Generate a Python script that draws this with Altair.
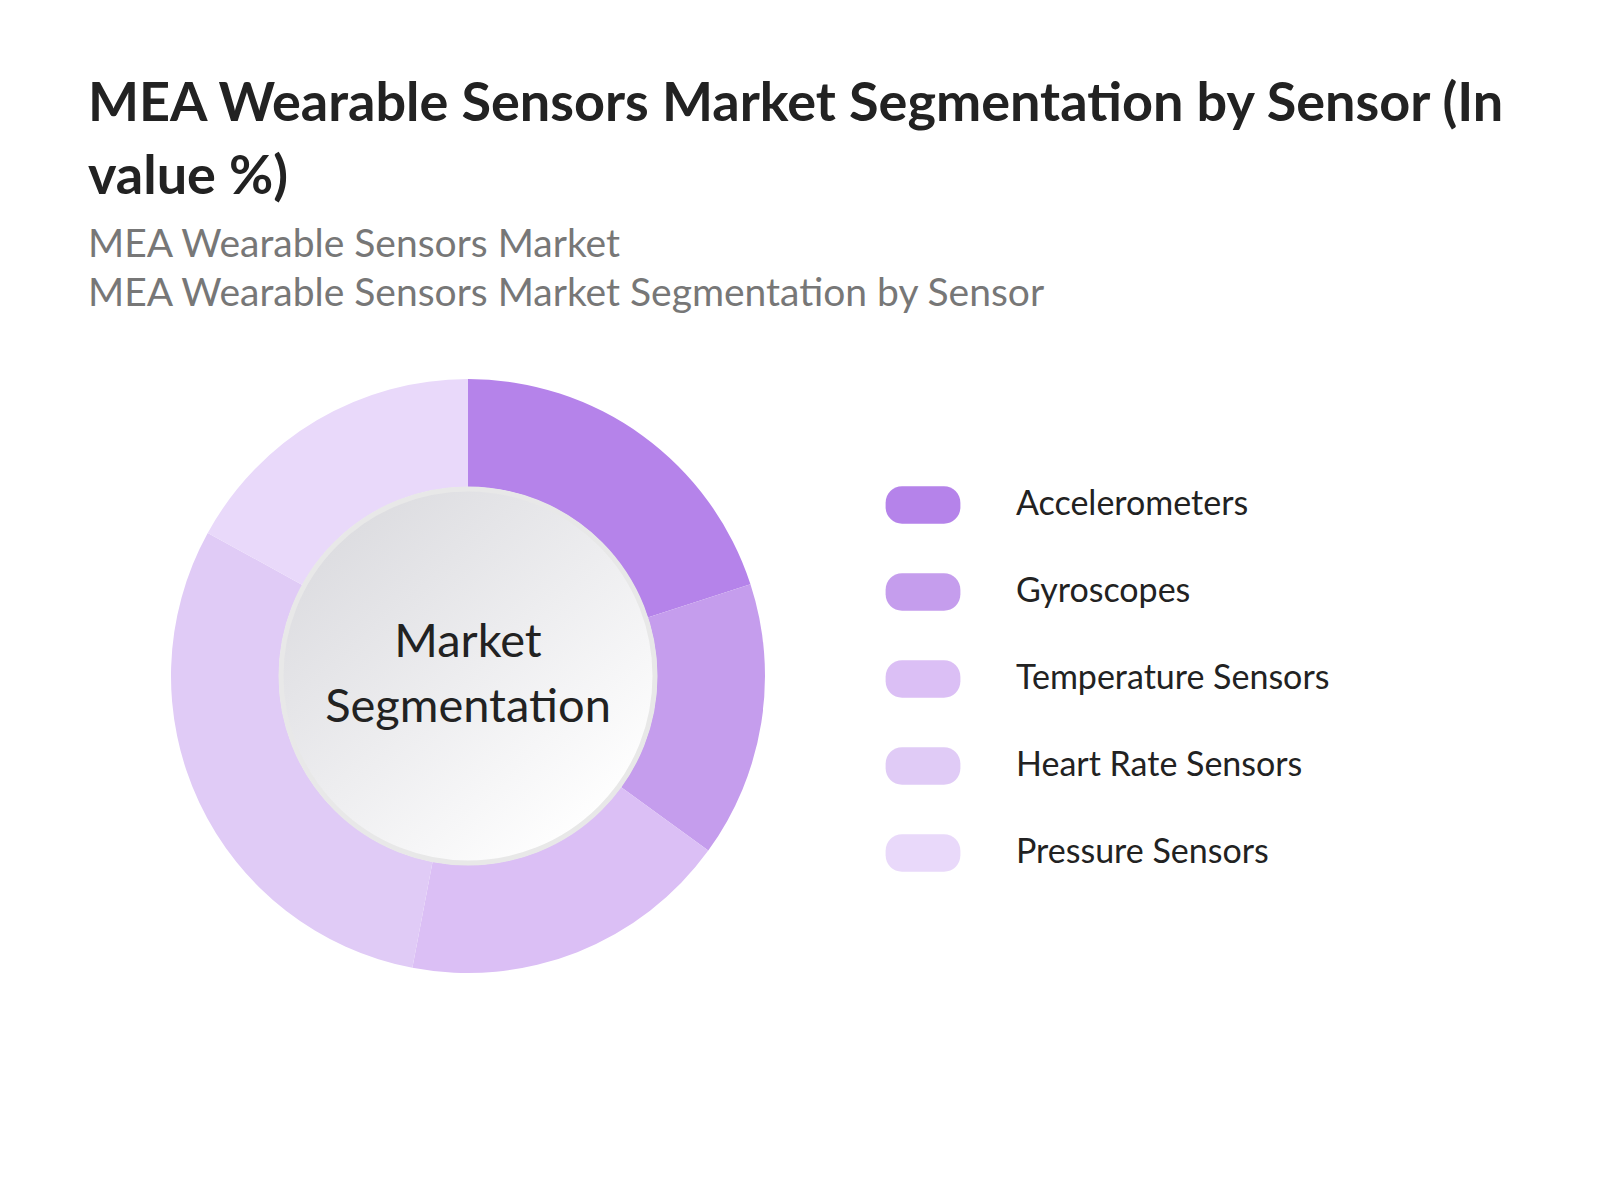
import altair as alt
import pandas as pd

sensors = ["Accelerometers", "Gyroscopes", "Temperature Sensors", "Heart Rate Sensors", "Pressure Sensors"]
shares = [20, 15, 18, 30, 17]
colors = ["#b583ea", "#c59ded", "#dbbff5", "#e0cbf6", "#e9d9fa"]
center_label = ["Market", "Segmentation"]

title_lines = ["MEA Wearable Sensors Market Segmentation by Sensor (In", "value %)"]
subtitle_lines = ["MEA Wearable Sensors Market", "MEA Wearable Sensors Market Segmentation by Sensor"]

df = pd.DataFrame({"sensor": sensors, "share": shares, "idx": list(range(len(sensors)))})

CX, CY = 380, 348

pill = ("M-0.42,-0.375 H0.42 C0.602,-0.375 0.75,-0.227 0.75,-0.045 V0.045 "
        "C0.75,0.227 0.602,0.375 0.42,0.375 H-0.42 C-0.602,0.375 -0.75,0.227 -0.75,0.045 "
        "V-0.045 C-0.75,-0.227 -0.602,-0.375 -0.42,-0.375 Z")

donut = alt.Chart(df).mark_arc(innerRadius=189, outerRadius=297).encode(
    theta=alt.Theta("share:Q", stack=True),
    order=alt.Order("idx:Q"),
    color=alt.Color(
        "sensor:N",
        scale=alt.Scale(domain=sensors, range=colors),
        legend=alt.Legend(
            orient="none", legendX=785, legendY=127, title=None,
            symbolType=pill, symbolSize=9940, symbolStrokeWidth=0, symbolOpacity=1,
            labelFont="Lato", labelFontSize=34, labelColor="#222222",
            labelOffset=43, rowPadding=18, padding=0, labelLimit=600,
        ),
    ),
    x=alt.value(CX), y=alt.value(CY),
)

center_df = pd.DataFrame({"k": [0]})
inner = alt.Chart(center_df).mark_arc(
    theta=0, theta2=6.2832, outerRadius=187, innerRadius=0,
    stroke="#e8e8e8", strokeWidth=5,
    fill=alt.Gradient(
        gradient="linear",
        stops=[alt.GradientStop(color="#dcdce0", offset=0), alt.GradientStop(color="#ffffff", offset=1)],
        x1=0.15, y1=0.1, x2=0.85, y2=0.9,
    ),
).encode(x=alt.value(CX), y=alt.value(CY))

label = alt.Chart(pd.DataFrame({"t": [center_label]})).mark_text(
    font="Lato", fontSize=47, color="#222222", lineHeight=65, baseline="middle", align="center"
).encode(text="t", x=alt.value(CX), y=alt.value(CY - 33))

chart = alt.layer(donut, inner, label).properties(
    width=1500, height=800,
    padding={"left": 80, "top": 320, "right": 0, "bottom": 0},
    autosize=alt.AutoSizeParams(type="none"),
    background="white",
    title=alt.TitleParams(
        text=title_lines, subtitle=subtitle_lines, anchor="start", frame="group",
        font="Lato", fontSize=54, fontWeight="bold", color="#222222", lineHeight=73,
        subtitleFont="Lato", subtitleFontSize=39, subtitleColor="#777777", subtitleLineHeight=49,
        subtitlePadding=21, offset=14,
    ),
).configure_view(strokeWidth=0, stroke="transparent")

chart.save("out.html", embed_options={"renderer": "svg", "actions": False})
